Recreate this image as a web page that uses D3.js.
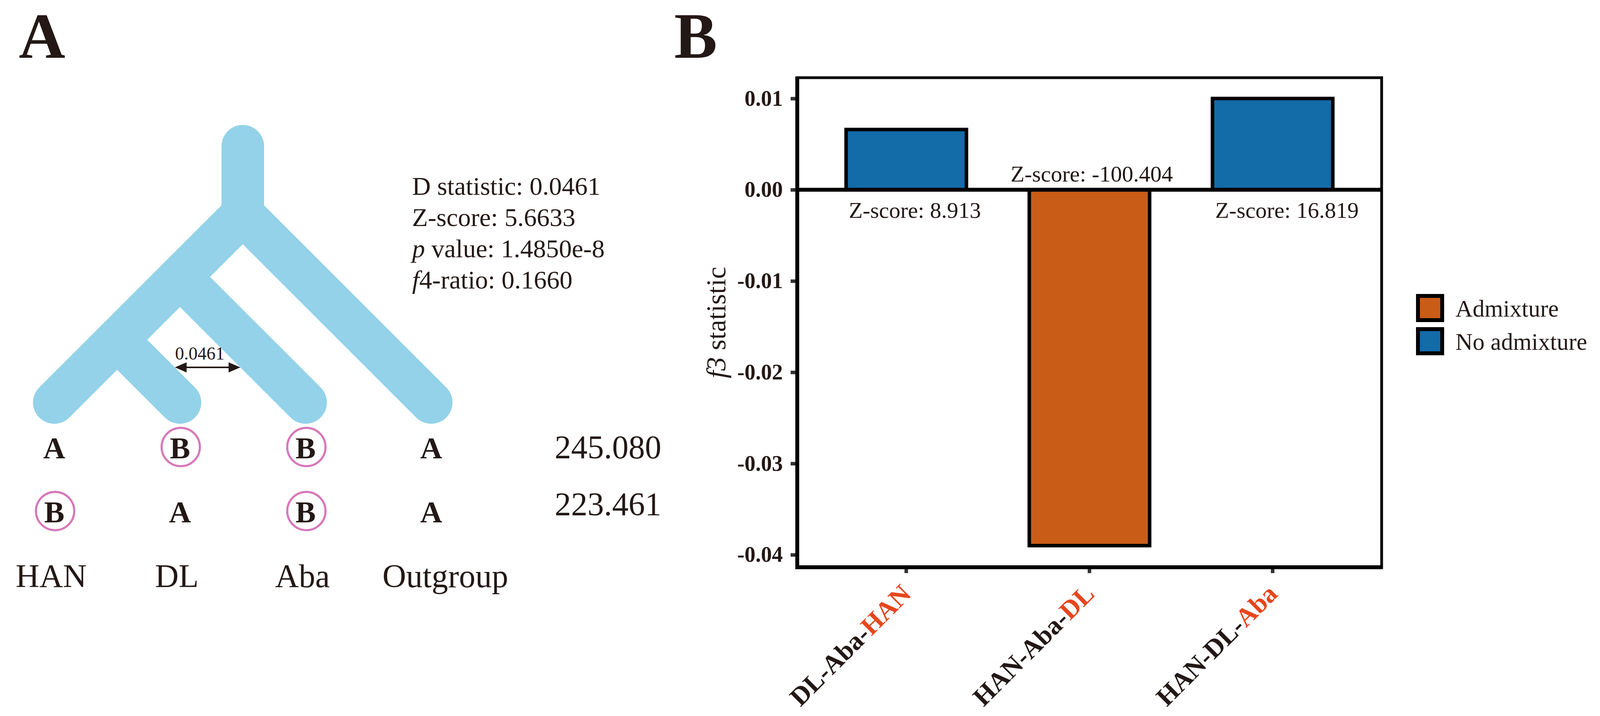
<!DOCTYPE html>
<html>
<head>
<meta charset="utf-8">
<script src="https://cdn.jsdelivr.net/npm/d3@7"></script>
<style>
  html, body { margin: 0; padding: 0; background: #ffffff; }
  svg { display: block; }
  text { font-family: "Liberation Serif", "Times New Roman", Times, serif; }
</style>
</head>
<body>
<script>
// ---------------- DATA ----------------
const panelLetters = ["A", "B"];
const taxa = ["HAN", "DL", "Aba", "Outgroup"];
const treeTopology = {
  name: "root",
  children: [
    { name: "n2", children: [
      { name: "n3", children: [{ name: "HAN" }, { name: "DL" }] },
      { name: "Aba" }
    ]},
    { name: "Outgroup" }
  ]
};
const arrowLabel = "0.0461";
const patternRows = [
  ["A", "B", "B", "A"],
  ["B", "A", "B", "A"]
];
const patternCounts = ["245.080", "223.461"];
const dStatLines = [
  [{ t: "D statistic: 0.0461" }],
  [{ t: "Z-score: 5.6633" }],
  [{ t: "p", i: true }, { t: " value: 1.4850e-8" }],
  [{ t: "f", i: true }, { t: "4-ratio: 0.1660" }]
];

const f3Categories = ["DL-Aba-HAN", "HAN-Aba-DL", "HAN-DL-Aba"];
const f3LabelParts = [["DL-Aba-", "HAN"], ["HAN-Aba-", "DL"], ["HAN-DL-", "Aba"]];
const f3Values = [0.0066, -0.0390, 0.0100];
const f3ZScores = ["Z-score: 8.913", "Z-score: -100.404", "Z-score: 16.819"];
const f3Groups = ["No admixture", "Admixture", "No admixture"];
const yTickValues = [0.01, 0.00, -0.01, -0.02, -0.03, -0.04];
const yDomain = [-0.04137, 0.01228];
const legendKeys = ["Admixture", "No admixture"];

// ---------------- SETUP ----------------
const W = 4097, H = 1834;
const ink = "#231815";
const treeColor = "#93D2E9";
const circleColor = "#D778B9";
const redLabel = "#E6461E";
const groupColor = d3.scaleOrdinal().domain(legendKeys).range(["#C95C17", "#136BA8"]);

const svg = d3.select("body").append("svg")
  .attr("width", W).attr("height", H)
  .attr("viewBox", `0 0 ${W} ${H}`);
svg.append("rect").attr("width", W).attr("height", H).attr("fill", "#fff");

// panel letters
const letterX = d3.scalePoint().domain(panelLetters).range([48, 1726]);
svg.selectAll("text.panel").data(panelLetters).join("text")
  .attr("class", "panel")
  .attr("x", d => letterX(d)).attr("y", 148)
  .attr("font-size", 165).attr("font-weight", "bold").attr("fill", ink)
  .text(d => d);

// ---------------- PANEL A : tree ----------------
const tipX = d3.scalePoint().domain(taxa).range([139, 1104]);
const tipY = 1031;
const branchW = 109;
const root = d3.hierarchy(treeTopology);
root.eachAfter(n => {
  if (!n.children) {
    n.x = tipX(n.data.name); n.y = tipY; n.xl = n.x; n.xr = n.x;
  } else {
    n.xl = d3.min(n.children, c => c.xl);
    n.xr = d3.max(n.children, c => c.xr);
    n.x = (n.xl + n.xr) / 2;
    n.y = tipY - (n.xr - n.xl) / 2;
  }
});
const gTree = svg.append("g");
const segs = root.links().map(l => [[l.source.x, l.source.y], [l.target.x, l.target.y]]);
segs.push([[root.x, root.y], [root.x, root.y - 174]]);
gTree.selectAll("path.branch").data(segs).join("path")
  .attr("class", "branch")
  .attr("d", d => d3.line()(d))
  .attr("fill", "none")
  .attr("stroke", treeColor)
  .attr("stroke-width", branchW)
  .attr("stroke-linecap", "round")
  .attr("stroke-linejoin", "round");

// double arrow between DL and Aba branches
const nodeDL = root.leaves().find(n => n.data.name === "DL");
const nodeAba = root.leaves().find(n => n.data.name === "Aba");
const arrowY = tipY - 90;
const edgeOff = branchW / 2 * Math.SQRT2;
const dlX = nodeDL.parent.x + (arrowY - nodeDL.parent.y) + edgeOff;
const abaX = nodeAba.parent.x + (arrowY - nodeAba.parent.y) - edgeOff;
const ah = 30, aw = 13;
gTree.append("line")
  .attr("x1", dlX + ah - 2).attr("x2", abaX - ah + 2)
  .attr("y1", arrowY).attr("y2", arrowY)
  .attr("stroke", ink).attr("stroke-width", 4);
gTree.append("path")
  .attr("d", `M${dlX},${arrowY} L${dlX + ah},${arrowY - aw} L${dlX + ah},${arrowY + aw} Z`)
  .attr("fill", ink);
gTree.append("path")
  .attr("d", `M${abaX},${arrowY} L${abaX - ah},${arrowY - aw} L${abaX - ah},${arrowY + aw} Z`)
  .attr("fill", ink);
gTree.append("text")
  .attr("x", (dlX + abaX) / 2 - 20).attr("y", arrowY - 20)
  .attr("text-anchor", "middle").attr("font-size", 46).attr("fill", ink)
  .text(arrowLabel);

// D statistic text block
const dText = svg.append("text").attr("font-size", 66).attr("fill", ink);
dStatLines.forEach((line, li) => {
  line.forEach((part, pi) => {
    const ts = dText.append("tspan").text(part.t)
      .attr("font-style", part.i ? "italic" : "normal");
    if (pi === 0) ts.attr("x", 1055).attr("y", 499 + li * 80);
  });
});

// site pattern rows
const rowBase = [1174, 1338];
const countBase = [1174, 1320];
patternRows.forEach((row, r) => {
  const g = svg.append("g");
  g.selectAll("circle").data(row.map((v, i) => ({ v, t: taxa[i] })).filter(d => d.v === "B"))
    .join("circle")
    .attr("cx", d => tipX(d.t) + 2).attr("cy", rowBase[r] - 29)
    .attr("r", 49).attr("fill", "none")
    .attr("stroke", circleColor).attr("stroke-width", 5.5);
  g.selectAll("text").data(row.map((v, i) => ({ v, t: taxa[i] })))
    .join("text")
    .attr("x", d => tipX(d.t)).attr("y", rowBase[r])
    .attr("text-anchor", "middle").attr("font-size", 78).attr("font-weight", "bold")
    .attr("fill", ink).text(d => d.v);
  svg.append("text").attr("x", 1420).attr("y", countBase[r])
    .attr("font-size", 84).attr("fill", ink).text(patternCounts[r]);
});

// taxon labels
svg.selectAll("text.taxon").data(taxa).join("text")
  .attr("class", "taxon")
  .attr("x", d => tipX(d) + (d === "Outgroup" ? 36 : -8)).attr("y", 1504)
  .attr("text-anchor", "middle").attr("font-size", 84).attr("fill", ink)
  .text(d => d);

// ---------------- PANEL B : f3 bar chart ----------------
const px0 = 2041, px1 = 3537, py0 = 199, py1 = 1453;
const x = d3.scaleBand().domain(f3Categories).range([px0, px1])
  .paddingInner(0.343).paddingOuter(0.2665);
const y = d3.scaleLinear().domain(yDomain).range([py1, py0]);

const gB = svg.append("g");

// y axis ticks + labels
const yAxis = d3.axisLeft(y).tickValues(yTickValues)
  .tickFormat(d => d.toFixed(2)).tickSize(17).tickPadding(20);
const gy = gB.append("g").attr("transform", `translate(${px0},0)`).call(yAxis);
gy.select(".domain").remove();
gy.selectAll(".tick line").attr("stroke", "#333").attr("stroke-width", 9);
gy.selectAll(".tick text").attr("font-size", 56).attr("font-weight", "bold")
  .attr("fill", ink).attr("font-family", "Liberation Serif, Times New Roman, serif");

// x axis ticks
const xAxis = d3.axisBottom(x).tickSize(15).tickFormat("");
const gx = gB.append("g").attr("transform", `translate(0,${py1})`).call(xAxis);
gx.select(".domain").remove();
gx.selectAll(".tick line").attr("stroke", "#333").attr("stroke-width", 9);

// bars
const barData = f3Categories.map((c, i) => ({ c, v: f3Values[i], z: f3ZScores[i], g: f3Groups[i] }));
gB.selectAll("rect.bar").data(barData).join("rect")
  .attr("class", "bar")
  .attr("x", d => x(d.c))
  .attr("width", x.bandwidth())
  .attr("y", d => y(Math.max(0, d.v)))
  .attr("height", d => Math.abs(y(d.v) - y(0)))
  .attr("fill", d => groupColor(d.g))
  .attr("stroke", "#000").attr("stroke-width", 9);

// zero line
gB.append("line").attr("x1", px0).attr("x2", px1)
  .attr("y1", y(0)).attr("y2", y(0))
  .attr("stroke", "#000").attr("stroke-width", 10);

// panel frame
gB.append("rect").attr("x", px0).attr("y", py0)
  .attr("width", px1 - px0).attr("height", py1 - py0)
  .attr("fill", "none").attr("stroke", "#000").attr("stroke-width", 7);
gB.append("path").attr("d", `M${px0},${py0 - 3} V${py1} H${px1 + 3}`)
  .attr("fill", "none").attr("stroke", "#000").attr("stroke-width", 10);

// z-score labels
gB.selectAll("text.z").data(barData).join("text")
  .attr("class", "z")
  .attr("x", d => d.v >= 0 ? x(d.c) + 7 : x(d.c) + x.bandwidth() / 2 + 6)
  .attr("y", d => d.v >= 0 ? y(0) + 72 : y(0) - 21)
  .attr("text-anchor", d => d.v >= 0 ? "start" : "middle")
  .attr("font-size", 58).attr("fill", ink)
  .text(d => d.z);

// rotated category labels
const gl = gB.selectAll("g.xl").data(f3Categories).join("g")
  .attr("class", "xl")
  .attr("transform", d => `translate(${x(d) + x.bandwidth() / 2 + 16},${py1 + 72}) rotate(-45)`);
gl.append("text")
  .attr("text-anchor", "end").attr("font-size", 67).attr("font-weight", "bold")
  .each(function (d, i) {
    const t = d3.select(this);
    t.append("tspan").attr("fill", ink).text(f3LabelParts[i][0]);
    t.append("tspan").attr("fill", redLabel).text(f3LabelParts[i][1]);
  });

// y axis title
const yt = gB.append("text")
  .attr("transform", `translate(1857,${(py0 + py1) / 2}) rotate(-90)`)
  .attr("text-anchor", "middle").attr("font-size", 70).attr("fill", ink);
yt.append("tspan").attr("font-style", "italic").text("f3");
yt.append("tspan").text(" statistic");

// legend
const legY = d3.scalePoint().domain(legendKeys).range([790, 875]);
const gLeg = svg.append("g");
gLeg.selectAll("rect").data(legendKeys).join("rect")
  .attr("x", 3630).attr("y", d => legY(d) - 32)
  .attr("width", 62).attr("height", 62)
  .attr("fill", d => groupColor(d))
  .attr("stroke", "#000").attr("stroke-width", 10);
gLeg.selectAll("text").data(legendKeys).join("text")
  .attr("x", 3726).attr("y", d => legY(d) + 21)
  .attr("font-size", 61).attr("fill", ink)
  .text(d => d);
</script>
</body>
</html>
